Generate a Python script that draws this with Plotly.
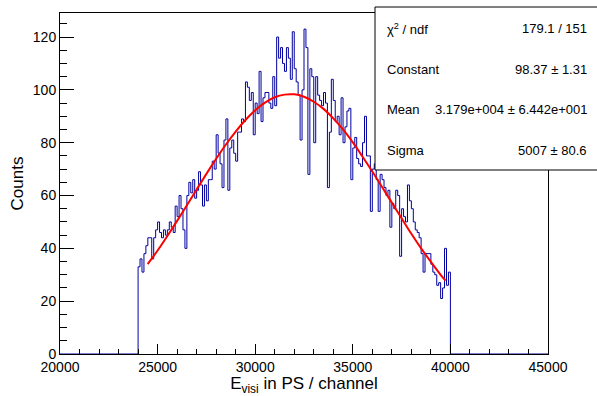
import plotly.graph_objects as go

# ---- data ----
bin_start = 24000
bin_width = 100
counts = [
    33, 36, 31, 38, 41, 44, 44, 36, 44, 47,
    50, 46, 44, 47, 45, 47, 50, 48, 46, 56,
    52, 60, 55, 47, 40, 60, 65, 61, 66, 59,
    62, 69, 64, 56, 64, 58, 66, 66, 73, 70,
    83, 76, 72, 63, 81, 89, 62, 78, 81, 76,
    73, 84, 84, 89, 88, 103, 101, 96, 99, 83,
    95, 91, 107, 88, 97, 99, 99, 95, 93, 105,
    94, 120, 112, 116, 110, 107, 116, 112, 104, 122,
    108, 103, 98, 81, 100, 123, 116, 68, 108, 105,
    80, 105, 98, 96, 94, 99, 95, 63, 84, 104,
    96, 88, 90, 83, 97, 80, 86, 92, 93, 66,
    78, 82, 74, 72, 71, 80, 90, 75, 75, 54,
    70, 72, 66, 54, 68, 66, 63, 60, 62, 48,
    57, 55, 62, 60, 37, 55, 52, 50, 64, 58,
    55, 50, 47, 46, 44, 38, 31, 38, 38, 38,
    34, 31, 30, 26, 27, 21, 25, 40, 26, 31,
]
# fit curve
fit_x = [24490, 25000, 25500, 26000, 26500, 27000, 27500, 28000, 28500, 29000,
         29500, 30000, 30500, 31000, 31500, 32000, 32500, 33000, 33500, 34000,
         34500, 35000, 35500, 36000, 36500, 37000, 37500, 38000, 38500, 39000,
         39500, 39750]
fit_y = [34.0, 39.2, 44.7, 50.4, 56.3, 62.3, 68.2, 73.9, 79.3, 84.2,
         88.6, 92.3, 95.2, 97.2, 98.2, 98.3, 97.4, 95.5, 92.8, 89.2,
         85.0, 80.1, 74.7, 69.1, 63.2, 57.3, 51.4, 45.5, 40.0, 34.9,
         30.0, 27.8]
x_range = [20000, 45000]
y_range = [0, 129.1]
x_ticks = [20000, 25000, 30000, 35000, 40000, 45000]
x_tick_labels = ["20000", "25000", "30000", "35000", "40000", "45000"]
y_ticks = [0, 20, 40, 60, 80, 100, 120]
y_tick_labels = ["0", "20", "40", "60", "80", "100", "120"]
stat_labels = ["χ<sup>2</sup> / ndf", "Constant", "Mean", "Sigma"]
stat_values = ["179.1 / 151", "98.37 ± 1.31", "3.179e+004 ± 6.442e+001", "5007 ± 80.6"]

# ---- build step outline ----
edges = [bin_start + bin_width * i for i in range(len(counts) + 1)]
step_x = [x_range[0]] + edges[:-1] + [edges[-1], x_range[1]]
step_y = [0] + counts + [0, 0]

FONT = "Liberation Sans, Arial, Helvetica, sans-serif"
W, H = 597, 396
ml, mr, mt, mb = 60, 49, 13, 42
pw, ph = W - ml - mr, H - mt - mb

def px2paper_x(px):
    return (px - ml) / pw

def py2paper_y(py):
    return (H - mb - py) / ph

fig = go.Figure()
fig.add_trace(go.Scatter(x=step_x, y=step_y, mode="lines", line_shape="hv",
                         line=dict(color="#0000a0", width=1), hoverinfo="skip",
                         showlegend=False))
fig.add_trace(go.Scatter(x=fit_x, y=fit_y, mode="lines", line_shape="spline",
                         line=dict(color="#ff0000", width=2), hoverinfo="skip",
                         showlegend=False))

axis_common = dict(showgrid=False, zeroline=False, showline=True, linecolor="black",
                   linewidth=1, mirror=True, ticks="inside", tickcolor="black",
                   tickfont=dict(family=FONT, size=14, color="black"))

fig.update_xaxes(range=x_range, tickvals=x_ticks, ticktext=x_tick_labels, ticklen=10,
                 minor=dict(dtick=1000, ticklen=5, ticks="inside", tickcolor="black"),
                 title=dict(text="E<sub>visi</sub> in PS / channel",
                            font=dict(family=FONT, size=17, color="black"), standoff=2),
                 **axis_common)
fig.update_yaxes(range=y_range, tickvals=y_ticks, ticktext=y_tick_labels, ticklen=14,
                 minor=dict(dtick=5, ticklen=7, ticks="inside", tickcolor="black"),
                 title=dict(text="Counts", font=dict(family=FONT, size=17, color="black"),
                            standoff=4),
                 **axis_common)

# stats box
fig.add_shape(type="rect", xref="paper", yref="paper",
              x0=px2paper_x(375), x1=px2paper_x(620),
              y0=py2paper_y(170), y1=py2paper_y(7),
              fillcolor="white", line=dict(color="black", width=1), layer="above")
row_y = [29, 70, 110, 150.5]
for lab, val, yy in zip(stat_labels, stat_values, row_y):
    fig.add_annotation(xref="paper", yref="paper", x=px2paper_x(385), y=py2paper_y(yy),
                       text=lab, showarrow=False, xanchor="left", yanchor="middle",
                       font=dict(family=FONT, size=13, color="black"))
    fig.add_annotation(xref="paper", yref="paper", x=px2paper_x(589), y=py2paper_y(yy),
                       text=val, showarrow=False, xanchor="right", yanchor="middle",
                       font=dict(family=FONT, size=13, color="black"))

fig.update_layout(width=W, height=H, margin=dict(l=ml, r=mr, t=mt, b=mb, autoexpand=False),
                  paper_bgcolor="white", plot_bgcolor="white", showlegend=False)

fig.write_html("out.html", config={"displayModeBar": False, "staticPlot": True},
               post_script="document.body.style.margin='0';document.body.style.padding='0';"
                           "document.body.style.overflow='hidden';")
